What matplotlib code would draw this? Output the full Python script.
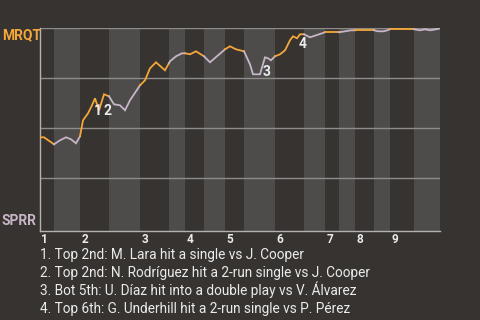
import numpy as np
import matplotlib
matplotlib.use('Agg')
import matplotlib.pyplot as plt

# game progress (0-400) and MRQT win probability
progress = [0, 4, 14, 20, 26, 31, 36, 40, 43, 48, 52, 55, 59, 64, 69, 74, 80, 85, 90, 96,
            100, 105, 110, 116, 125, 130, 136, 142, 145, 150, 156, 164, 170, 185, 190, 196,
            204, 210, 213, 220, 225, 228, 231, 235, 240, 245, 250, 253, 257, 260, 264, 270,
            276, 282, 285, 299, 305, 311, 334, 338, 344, 350, 374, 380, 385, 390, 396, 400]
win_prob = [0.455, 0.455, 0.42, 0.44, 0.455, 0.445, 0.425, 0.46, 0.54, 0.575, 0.615, 0.65,
            0.59, 0.67, 0.66, 0.62, 0.615, 0.59, 0.64, 0.685, 0.715, 0.74, 0.80, 0.83, 0.79,
            0.835, 0.86, 0.875, 0.875, 0.87, 0.885, 0.86, 0.83, 0.895, 0.91, 0.895, 0.885,
            0.82, 0.77, 0.77, 0.855, 0.85, 0.84, 0.86, 0.87, 0.89, 0.94, 0.96, 0.95, 0.97,
            0.97, 0.955, 0.965, 0.975, 0.98, 0.98, 0.985, 0.99, 0.99, 0.985, 0.985, 0.995,
            0.995, 0.99, 0.995, 0.99, 0.995, 1.0]

# start of each half inning (top 1st, bot 1st, top 2nd, ...), plus the end
half_starts = [0, 14, 40, 69, 100, 129, 145, 164, 185, 204, 235, 264, 285, 299, 315, 334, 350, 374, 400]
inning_labels = ['1', '2', '3', '4', '5', '6', '7', '8', '9']

# key events: label, progress
event_ids = ['1', '2', '3', '4']
event_x = [55, 64, 225, 260]
event_text = [
    '1. Top 2nd: M. Lara hit a single vs J. Cooper',
    '2. Top 2nd: N. Rodríguez hit a 2-run single vs J. Cooper',
    '3. Bot 5th: U. Díaz hit into a double play vs V. Álvarez',
    '4. Top 6th: G. Underhill hit a 2-run single vs P. Pérez',
]

BG = '#363330'
BAND = '#4e4c4a'
ORANGE = '#f5a83a'
LAV = '#c6b6c8'
GRID = '#8e8c8a'
TXT = '#ebebeb'

plt.rcParams['font.family'] = ['Roboto', 'DejaVu Sans']

fig = plt.figure(figsize=(4.8, 3.2), dpi=100, facecolor=BG)
ax = fig.add_axes([40 / 480, 1 - 230.7 / 320, 400 / 480, 202.4 / 320])
ax.set_facecolor(BG)
ax.set_xlim(0, 400)
ax.set_ylim(-0.012, 1.0)

# alternating half-inning bands
for i in range(len(half_starts) - 1):
    if i % 2 == 1:
        ax.axvspan(half_starts[i], half_starts[i + 1], color=BAND, lw=0, zorder=0)

for gy in [0.25, 0.5, 0.75, 1.0]:
    ax.axhline(gy, color=GRID, lw=1, zorder=1)

# line colored by half inning
x = np.array(progress, dtype=float)
y = np.array(win_prob)
for i in range(len(half_starts) - 1):
    a, b = half_starts[i], half_starts[i + 1]
    mask = (x > a) & (x < b)
    xs = np.concatenate([[a], x[mask], [b]])
    ys = np.concatenate([[np.interp(a, x, y)], y[mask], [np.interp(b, x, y)]])
    ax.plot(xs, ys, color=ORANGE if i % 2 == 0 else LAV, lw=1.3,
            solid_joinstyle='miter', zorder=3)

# event numbers on the chart
offsets = [(2.5, -13), (3, -17), (2, -15), (3, -10)]
for lab, ex, off in zip(event_ids, event_x, offsets):
    ey = np.interp(ex, x, y)
    ax.annotate(lab, (ex, ey), xytext=off, textcoords='offset pixels',
                ha='center', va='center', color=TXT, fontsize=10,
                fontweight='bold', zorder=5)

for sp in ['top', 'right']:
    ax.spines[sp].set_visible(False)
ax.spines['left'].set_color('#b4b2b0')
ax.spines['bottom'].set_color('#b4b2b0')
ax.spines['left'].set_linewidth(1)
ax.spines['bottom'].set_linewidth(1)
ax.set_yticks([])
ax.set_xticks([])

# inning labels at start of each top half
for lab, hx in zip(inning_labels, half_starts[0::2]):
    fig.text((40 + hx + 1.5) / 480, 1 - 243 / 320, lab, ha='left', va='baseline',
             color=TXT, fontsize=8.5, fontweight='bold')

fig.text(2 / 480, 1 - 35 / 320, 'MRQT', color=ORANGE, fontsize=10,
         fontweight='bold', ha='left', va='center')
fig.text(2 / 480, 1 - 221 / 320, 'SPRR', color=LAV, fontsize=10,
         fontweight='bold', ha='left', va='center')

for k, t in enumerate(event_text):
    fig.text(40 / 480, 1 - (258.7 + 18 * k) / 320, t, color=TXT, fontsize=9.8,
             ha='left', va='baseline')

fig.savefig('out.png', dpi=100, facecolor=BG)
